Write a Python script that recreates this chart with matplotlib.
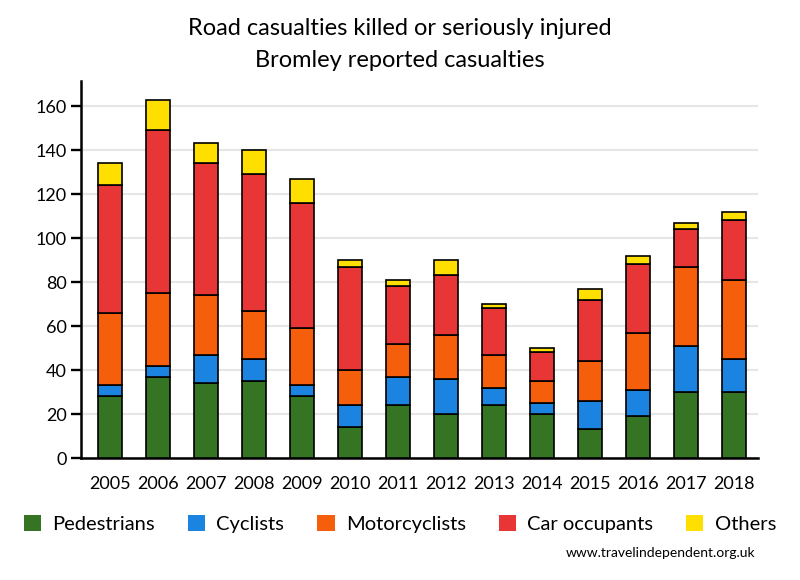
import matplotlib
matplotlib.use("Agg")
import matplotlib.pyplot as plt
import numpy as np

plt.rcParams['font.family'] = ['Lato', 'DejaVu Sans']

YEARS = ['2005', '2006', '2007', '2008', '2009', '2010', '2011',
         '2012', '2013', '2014', '2015', '2016', '2017', '2018']
PEDESTRIANS = [28, 37, 34, 35, 28, 14, 24, 20, 24, 20, 13, 19, 30, 30]
CYCLISTS = [5, 5, 13, 10, 5, 10, 13, 16, 8, 5, 13, 12, 21, 15]
MOTORCYCLISTS = [33, 33, 27, 22, 26, 16, 15, 20, 15, 10, 18, 26, 36, 36]
CAR_OCCUPANTS = [58, 74, 60, 62, 57, 47, 26, 27, 21, 13, 28, 31, 17, 27]
OTHERS = [10, 14, 9, 11, 11, 3, 3, 7, 2, 2, 5, 4, 3, 4]

SERIES = [
    ('Pedestrians', PEDESTRIANS, '#357423'),
    ('Cyclists', CYCLISTS, '#1b84e1'),
    ('Motorcyclists', MOTORCYCLISTS, '#f55f0b'),
    ('Car occupants', CAR_OCCUPANTS, '#e83535'),
    ('Others', OTHERS, '#ffdf00'),
]


def main():
    fig = plt.figure(figsize=(8, 5.8), dpi=100)
    ax = fig.add_axes([0.101, 0.2103, 0.846, 0.650])

    x = np.arange(len(YEARS))
    bottom = np.zeros(len(YEARS))
    for name, values, color in SERIES:
        ax.bar(x, values, width=0.5, bottom=bottom, color=color,
               edgecolor='black', linewidth=1.2, label=name, zorder=3)
        bottom += np.array(values)

    ax.set_xlim(-0.6, 13.5)
    ax.set_ylim(0, 171.4)
    ax.set_yticks(range(0, 161, 20))
    ax.set_xticks(x)
    ax.set_xticklabels(YEARS)
    ax.grid(axis='y', color='#e6e6e6', linewidth=1.5, zorder=0)
    ax.tick_params(axis='x', length=0, pad=13, labelsize=13)
    ax.tick_params(axis='y', length=7, width=1.7, labelsize=13, pad=3)

    for side in ('top', 'right'):
        ax.spines[side].set_visible(False)
    for side in ('left', 'bottom'):
        ax.spines[side].set_linewidth(1.8)

    fig.text(0.5, 0.951, 'Road casualties killed or seriously injured',
             ha='center', va='center', fontsize=17)
    fig.text(0.5, 0.896, 'Bromley reported casualties',
             ha='center', va='center', fontsize=17)

    fig.legend(loc='center', bbox_to_anchor=(0.5, 0.0966), ncol=5,
               frameon=False, fontsize=14.5, handlelength=0.85,
               handleheight=0.85, handletextpad=0.55, columnspacing=1.65)
    for patch in fig.legends[0].get_patches():
        patch.set_edgecolor('none')

    fig.text(0.944, 0.046, 'www.travelindependent.org.uk',
             ha='right', va='center', fontsize=10)

    fig.savefig('out.png', dpi=100)


if __name__ == "__main__":
    main()
